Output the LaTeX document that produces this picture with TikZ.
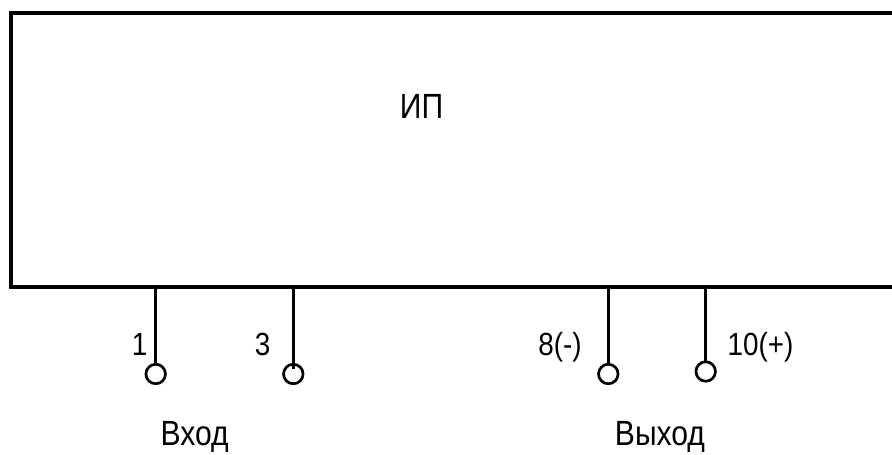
\documentclass[tikz,border=0pt]{standalone}
\usepackage{fontspec}
\setmainfont{Liberation Sans}
\begin{document}
\begin{tikzpicture}[x=1pt,y=-1pt,
 lbl/.style={inner sep=0pt,anchor=base,font=\fontsize{32}{36}\selectfont,xscale=0.87},
 lblbig/.style={inner sep=0pt,anchor=base,font=\fontsize{35}{40}\selectfont,xscale=0.86},
 pin/.style={circle,draw=black,line width=2.7pt,fill=white,minimum size=19.5pt,inner sep=0pt,outer sep=0pt},
 wire/.style={draw=black,line width=2.7pt},
 box/.style={draw=black,line width=4pt,inner sep=0pt,outer sep=0pt}]
\useasboundingbox (0,0) rectangle (892,455);
\fill[white] (0,0) rectangle (892,455);
\node[box,minimum width=890pt,minimum height=274pt,anchor=north west] (ip) at (11,13) {};
\node[lblbig] (t) at (421.5,118) {ИП};
\node[pin] (p1) at (155.7,374) {};
\node[pin] (p3) at (293.3,374) {};
\node[pin] (p8) at (608.3,374) {};
\node[pin] (p10) at (705.7,371.5) {};
\coordinate (a1) at (155.7,287);
\coordinate (a3) at (293.3,287);
\coordinate (a8) at (608.3,287);
\coordinate (a10) at (705.7,287);
\draw[wire] (a1) -- (p1);
\draw[wire] (a3) -- ([yshift=-5pt]p3.north);
\draw[wire] (a8) -- (p8);
\draw[wire] (a10) -- (p10);
\node[lbl] (l1) at (139.5,355) {1};
\node[lbl] (l3) at (262.5,355) {3};
\node[lbl] (l8) at (560,355) {8(-)};
\node[lbl] (l10) at (760.5,355) {10(+)};
\node[lblbig] (in) at (194.7,445) {Вход};
\node[lblbig] (out) at (660,445) {Выход};
\end{tikzpicture}
\end{document}
